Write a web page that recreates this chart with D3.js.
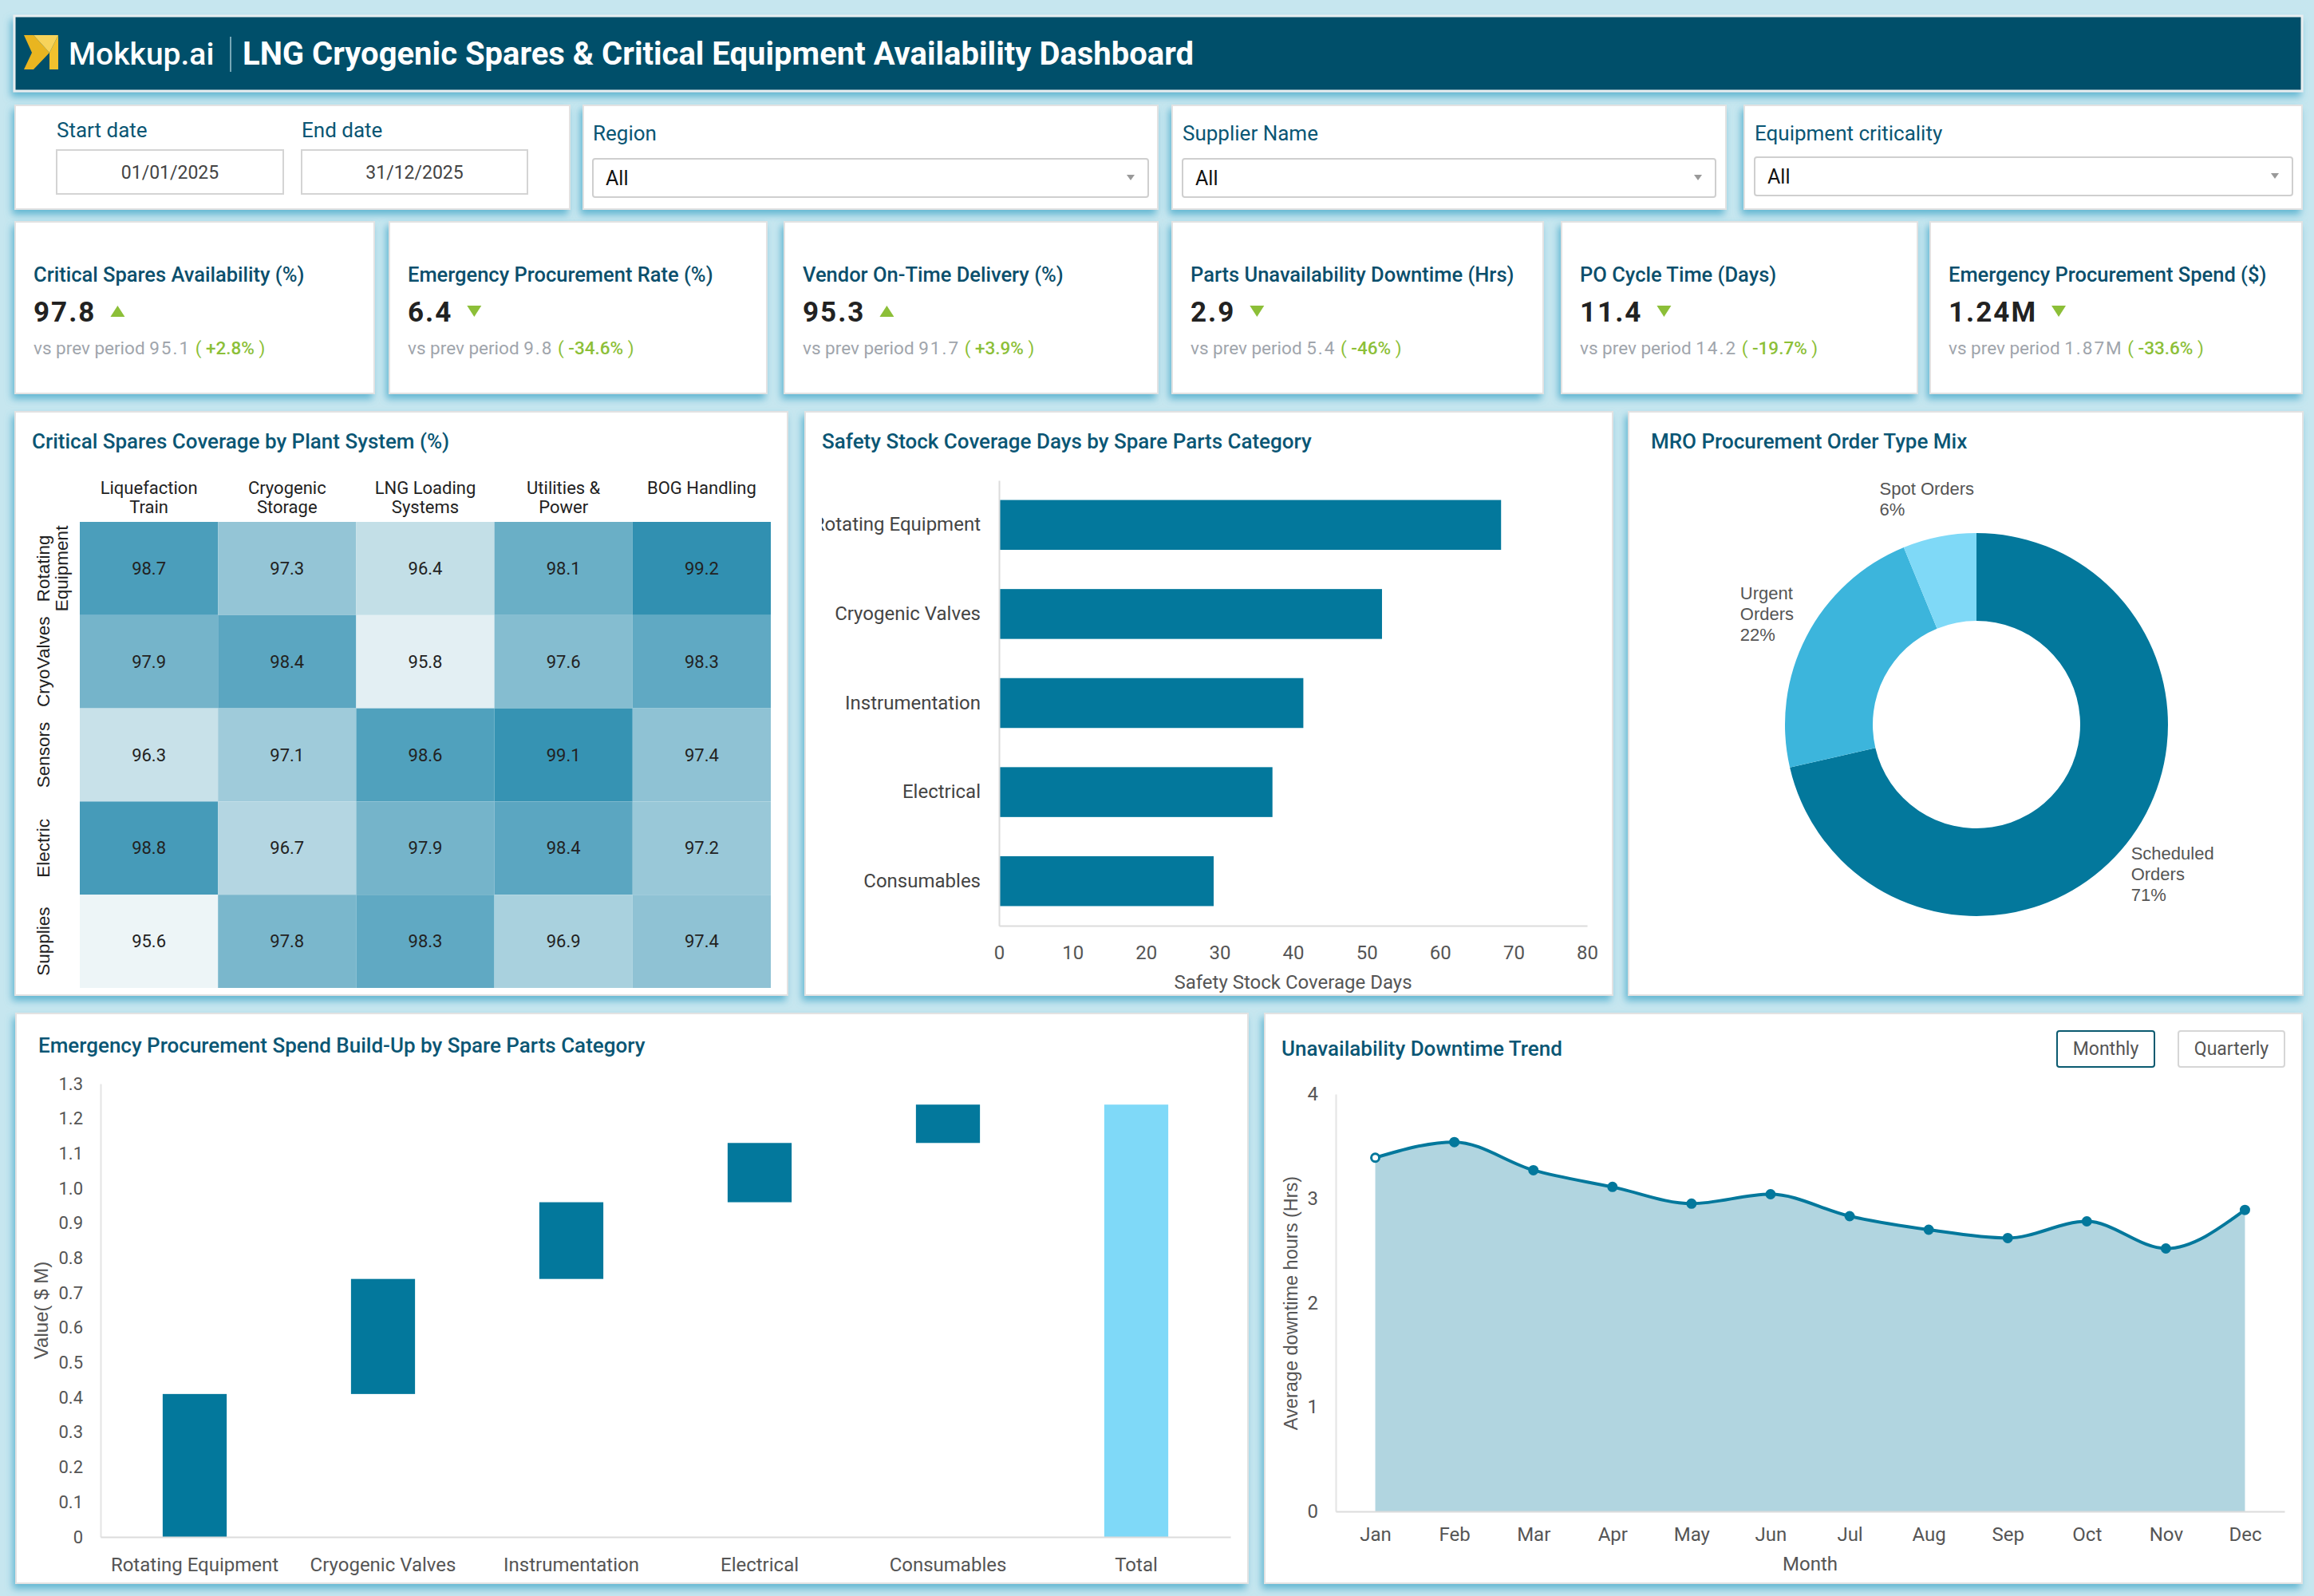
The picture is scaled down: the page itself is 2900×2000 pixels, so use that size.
<!DOCTYPE html>
<html lang="en">
<head>
<meta charset="UTF-8">
<title>LNG Cryogenic Spares & Critical Equipment Availability Dashboard</title>
<script src="https://d3js.org/d3.v7.min.js"></script>
<style>
    body { margin: 0; background: #c6e6ef; }
    svg { display: block; font-family: Roboto, "Noto Sans", sans-serif; }
</style>
</head>
<body>
<script>
    // ---------- data ----------
    const kpiTitles = ["Critical Spares Availability (%)", "Emergency Procurement Rate (%)", "Vendor On-Time Delivery (%)",
        "Parts Unavailability Downtime (Hrs)", "PO Cycle Time (Days)", "Emergency Procurement Spend ($)"];
    const kpiValues = ["97.8", "6.4", "95.3", "2.9", "11.4", "1.24M"];
    const kpiPrev = ["95.1", "9.8", "91.7", "5.4", "14.2", "1.87M"];
    const kpiDelta = ["+2.8%", "-34.6%", "+3.9%", "-46%", "-19.7%", "-33.6%"];
    const kpiUp = [true, false, true, false, false, false];

    const heatRows = ["Rotating Equipment", "CryoValves", "Sensors", "Electric", "Supplies"];
    const heatCols = ["Liquefaction Train", "Cryogenic Storage", "LNG Loading Systems", "Utilities & Power", "BOG Handling"];
    const heatValues = [
        [98.7, 97.3, 96.4, 98.1, 99.2],
        [97.9, 98.4, 95.8, 97.6, 98.3],
        [96.3, 97.1, 98.6, 99.1, 97.4],
        [98.8, 96.7, 97.9, 98.4, 97.2],
        [95.6, 97.8, 98.3, 96.9, 97.4]
    ];

    const stockCategories = ["Rotating Equipment", "Cryogenic Valves", "Instrumentation", "Electrical", "Consumables"];
    const stockDays = [68.3, 52.1, 41.4, 37.2, 29.2];

    const orderTypes = ["Scheduled Orders", "Urgent Orders", "Spot Orders"];
    const orderShares = [71.4, 22.4, 6.2];

    const spendCategories = ["Rotating Equipment", "Cryogenic Valves", "Instrumentation", "Electrical", "Consumables"];
    const spendValues = [0.41, 0.33, 0.22, 0.17, 0.11];

    const months = ["Jan", "Feb", "Mar", "Apr", "May", "Jun", "Jul", "Aug", "Sep", "Oct", "Nov", "Dec"];
    const downtime = [3.39, 3.54, 3.27, 3.11, 2.95, 3.04, 2.83, 2.70, 2.62, 2.78, 2.52, 2.89];

    // ---------- colours ----------
    const teal = "#03789c";
    const titleColor = "#0a5674";
    const axisText = "#555";

    const svg = d3.select("body").append("svg")
        .attr("width", 2900)
        .attr("height", 2000);

    svg.append("rect").attr("width", 2900).attr("height", 2000).attr("fill", "#c6e6ef");

    const defs = svg.append("defs");
    defs.append("filter").attr("id", "shadow")
        .attr("x", "-10%").attr("y", "-10%").attr("width", "120%").attr("height", "130%")
        .append("feDropShadow")
        .attr("dx", -3).attr("dy", 6).attr("stdDeviation", 5)
        .attr("flood-color", "#3fa6c8").attr("flood-opacity", 0.75);

    function card(x, y, w, h) {
        return svg.append("rect")
            .attr("x", x).attr("y", y).attr("width", w).attr("height", h)
            .attr("fill", "#fff")
            .attr("stroke", "#e2e2e2").attr("stroke-width", 2)
            .attr("filter", "url(#shadow)");
    }

    function cardTitle(x, y, text) {
        svg.append("text").attr("x", x).attr("y", y)
            .attr("font-size", 26).attr("font-weight", 500)
            .attr("fill", titleColor).text(text);
    }

    // ---------- header ----------
    svg.append("rect").attr("x", 18).attr("y", 20).attr("width", 2867).attr("height", 94)
        .attr("fill", "#00506b").attr("stroke", "#e8eef0").attr("stroke-width", 3)
        .attr("filter", "url(#shadow)");

    const logo = svg.append("g").attr("transform", "translate(30,44)");
    logo.append("path").attr("d", "M0,0 L12,0 L32,22 L12,43 L0,43 L10,22 Z").attr("fill", "#e9b520");
    logo.append("path").attr("d", "M43,0 L43,43 L32,43 L32,22 Z").attr("fill", "#f2c12e");
    logo.append("path").attr("d", "M12,0 L43,0 L32,22 Z").attr("fill", "#f7d35a");

    svg.append("text").attr("x", 86).attr("y", 81)
        .attr("font-size", 39).attr("font-weight", 500).attr("fill", "#fff").text("Mokkup.ai");
    svg.append("line").attr("x1", 289).attr("x2", 289).attr("y1", 46).attr("y2", 90)
        .attr("stroke", "#9fc6d2").attr("stroke-width", 1.5);
    svg.append("text").attr("x", 304).attr("y", 81)
        .attr("font-size", 40).attr("font-weight", 700).attr("fill", "#fff")
        .text("LNG Cryogenic Spares & Critical Equipment Availability Dashboard");

    // ---------- filters ----------
    card(19, 132, 695, 130);
    const dateBoxes = [
        {label: "Start date", value: "01/01/2025", x: 71, w: 284},
        {label: "End date", value: "31/12/2025", x: 378, w: 283}
    ];
    dateBoxes.forEach(d => {
        svg.append("text").attr("x", d.x).attr("y", 172).attr("font-size", 26)
            .attr("fill", titleColor).text(d.label);
        svg.append("rect").attr("x", d.x).attr("y", 188).attr("width", d.w).attr("height", 55)
            .attr("fill", "#fff").attr("stroke", "#d4d4d4").attr("stroke-width", 2);
        svg.append("text").attr("x", d.x + d.w / 2).attr("y", 224).attr("text-anchor", "middle")
            .attr("font-size", 23).attr("fill", "#444").text(d.value);
    });

    const dropdowns = [
        {label: "Region", x: 731, w: 720, bx: 743, bw: 696, by: 199},
        {label: "Supplier Name", x: 1469, w: 694, bx: 1482, bw: 668, by: 199},
        {label: "Equipment criticality", x: 2186, w: 699, bx: 2199, bw: 674, by: 197}
    ];
    dropdowns.forEach(d => {
        card(d.x, 132, d.w, 130);
        svg.append("text").attr("x", d.bx).attr("y", 176).attr("font-size", 26)
            .attr("fill", titleColor).text(d.label);
        svg.append("rect").attr("x", d.bx).attr("y", d.by).attr("width", d.bw).attr("height", 48)
            .attr("rx", 3).attr("fill", "#fff").attr("stroke", "#cfcfcf").attr("stroke-width", 2);
        svg.append("text").attr("x", d.bx + 16).attr("y", d.by + 33).attr("font-size", 25)
            .attr("fill", "#111").text("All");
        const ax = d.bx + d.bw - 22, ay = d.by + 23;
        svg.append("path").attr("d", `M${ax - 5},${ay - 3} L${ax + 5},${ay - 3} L${ax},${ay + 4} Z`)
            .attr("fill", "#999");
    });

    // ---------- KPI cards ----------
    const kpiX = [19, 488, 983, 1469, 1957, 2419];
    const kpiW = [450, 473, 468, 465, 446, 466];
    const green = "#8cbf38";
    kpiTitles.forEach((t, i) => {
        const x0 = kpiX[i] + 23;
        card(kpiX[i], 278, kpiW[i], 215);
        svg.append("text").attr("x", x0).attr("y", 353).attr("font-size", 25.5).attr("font-weight", 500)
            .attr("fill", "#0b4f6c").text(t);
        const v = svg.append("text").attr("x", x0).attr("y", 403).attr("font-size", 35).attr("font-weight", 700)
            .attr("letter-spacing", 2).attr("fill", "#222").text(kpiValues[i]);
        const vx = x0 + v.node().getComputedTextLength() + 18;
        const tri = kpiUp[i]
            ? `M${vx},397 L${vx + 18},397 L${vx + 9},383 Z`
            : `M${vx},383 L${vx + 18},383 L${vx + 9},397 Z`;
        svg.append("path").attr("d", tri).attr("fill", green);
        const s = svg.append("text").attr("x", x0).attr("y", 444).attr("font-size", 22.5);
        s.append("tspan").attr("fill", "#a0a5ac").text("vs prev period ");
        s.append("tspan").attr("fill", "#a0a5ac").attr("letter-spacing", 2).text(kpiPrev[i]);
        s.append("tspan").attr("fill", green).text("  ( ");
        s.append("tspan").attr("fill", green).attr("font-weight", 500).text(kpiDelta[i]);
        s.append("tspan").attr("fill", green).text(" )");
    });

    // ---------- heatmap ----------
    card(19, 516, 968, 731);
    cardTitle(40, 562, "Critical Spares Coverage by Plant System (%)");

    const hx = d3.scaleBand().domain(heatCols).range([100, 966]);
    const hy = d3.scaleBand().domain(heatRows).range([654, 1238]);
    const hColor = d3.scaleLinear().domain([95.6, 99.2]).range(["#edf5f7", "#3190b1"]);

    const cells = [];
    heatRows.forEach((r, ri) => heatCols.forEach((c, ci) => cells.push({r, c, v: heatValues[ri][ci]})));

    svg.append("g").selectAll("rect").data(cells).join("rect")
        .attr("x", d => hx(d.c)).attr("y", d => hy(d.r))
        .attr("width", hx.bandwidth()).attr("height", hy.bandwidth())
        .attr("fill", d => hColor(d.v));
    svg.append("g").selectAll("text").data(cells).join("text")
        .attr("x", d => hx(d.c) + hx.bandwidth() / 2)
        .attr("y", d => hy(d.r) + hy.bandwidth() / 2)
        .attr("text-anchor", "middle").attr("dominant-baseline", "central")
        .attr("font-size", 22).attr("fill", "#222").text(d => d.v.toFixed(1));

    const colLines = {"Liquefaction Train": ["Liquefaction", "Train"], "Cryogenic Storage": ["Cryogenic", "Storage"],
        "LNG Loading Systems": ["LNG Loading", "Systems"], "Utilities & Power": ["Utilities &", "Power"], "BOG Handling": ["BOG Handling"]};
    heatCols.forEach(c => {
        const t = svg.append("text").attr("text-anchor", "middle").attr("font-size", 22).attr("fill", "#222");
        colLines[c].forEach((l, k) => t.append("tspan").attr("x", hx(c) + hx.bandwidth() / 2)
            .attr("y", 619 + k * 24).text(l));
    });
    const rowLines = {"Rotating Equipment": ["Rotating", "Equipment"]};
    heatRows.forEach(r => {
        const cy = hy(r) + hy.bandwidth() / 2;
        const lines = rowLines[r] || [r];
        const t = svg.append("text").attr("text-anchor", "middle")
            .attr("transform", `translate(0,${cy}) rotate(-90)`)
            .attr("font-family", "'Liberation Sans', Arial, sans-serif")
            .attr("font-size", 22.5).attr("fill", "#222");
        lines.forEach((l, k) => t.append("tspan").attr("x", 0).attr("y", 62 + k * 23).text(l));
    });

    // ---------- safety stock bar chart ----------
    card(1009, 516, 1012, 731);
    cardTitle(1030, 562, "Safety Stock Coverage Days by Spare Parts Category");

    const bx = d3.scaleLinear().domain([0, 80]).range([1252, 1989]);
    const by = d3.scaleBand().domain(stockCategories).range([602, 1160]).paddingInner(0.44).paddingOuter(0.22);

    svg.append("g").selectAll("rect").data(stockCategories).join("rect")
        .attr("x", bx(0)).attr("y", d => by(d))
        .attr("width", (d, i) => bx(stockDays[i]) - bx(0)).attr("height", by.bandwidth())
        .attr("fill", teal);

    const bxAxis = svg.append("g").attr("transform", "translate(0,1160)")
        .call(d3.axisBottom(bx).tickValues(d3.range(0, 81, 10)).tickSize(0).tickPadding(25));
    bxAxis.select(".domain").attr("stroke", "#dcdcdc").attr("stroke-width", 2);
    bxAxis.selectAll("text").attr("font-size", 24).attr("fill", axisText).attr("font-family", "Roboto");

    // category labels are cut by the card padding on the left, as in the source
    defs.append("clipPath").attr("id", "barclip").append("rect")
        .attr("x", 1030).attr("y", 580).attr("width", 960).attr("height", 620);
    const byAxis = svg.append("g").attr("clip-path", "url(#barclip)")
        .append("g").attr("transform", `translate(${bx(0)},0)`)
        .call(d3.axisLeft(by).tickSize(0).tickPadding(23));
    byAxis.select(".domain").attr("stroke", "#dcdcdc").attr("stroke-width", 2);
    byAxis.selectAll("text").attr("font-size", 24).attr("fill", "#444").attr("font-family", "Roboto");

    svg.append("text").attr("x", (bx(0) + bx(80)) / 2).attr("y", 1239).attr("text-anchor", "middle")
        .attr("font-size", 24).attr("fill", axisText).text("Safety Stock Coverage Days");

    // ---------- donut ----------
    card(2041, 516, 845, 731);
    cardTitle(2069, 562, "MRO Procurement Order Type Mix");

    const donutColors = d3.scaleOrdinal().domain(orderTypes).range([teal, "#3cb5dc", "#7fd9f7"]);
    const pie = d3.pie().sort(null).value((d, i) => orderShares[i]);
    const arcs = pie(orderTypes);
    const arc = d3.arc().innerRadius(130).outerRadius(240);
    const total = d3.sum(orderShares);
    const donut = svg.append("g").attr("transform", "translate(2477,908)");
    donut.selectAll("path").data(arcs).join("path")
        .attr("d", arc).attr("fill", d => donutColors(d.data));

    arcs.forEach((a, i) => {
        const mid = (a.startAngle + a.endAngle) / 2;
        const sx = Math.sin(mid), sy = -Math.cos(mid);
        const px = 262 * sx, py = 262 * sy;
        const lines = i === 2 ? [orderTypes[i]] : orderTypes[i].split(" ");
        lines.push(Math.round(orderShares[i] / total * 100) + "%");
        const t = donut.append("text")
            .attr("font-family", "'Liberation Sans', Arial, sans-serif")
            .attr("font-size", 22).attr("fill", "#555");
        lines.forEach((l, k) => t.append("tspan").attr("x", 0).attr("dy", k === 0 ? 0 : 26).text(l));
        const bb = t.node().getBBox();
        const cx = px + sx * bb.width / 2, cy = py + sy * bb.height / 2;
        t.attr("transform", `translate(${cx - bb.width / 2 - bb.x},${cy - bb.height / 2 - bb.y})`);
    });

    // ---------- waterfall ----------
    card(20, 1270, 1544, 714);
    cardTitle(48, 1319, "Emergency Procurement Spend Build-Up by Spare Parts Category");

    const wfCats = spendCategories.concat(["Total"]);
    let run = 0;
    const steps = spendValues.map((v, i) => {
        const s = {cat: spendCategories[i], y0: run, y1: run + v, total: false};
        run += v;
        return s;
    });
    steps.push({cat: "Total", y0: 0, y1: run, total: true});

    const wx = d3.scaleBand().domain(wfCats).range([126, 1542]).paddingInner(0.66).paddingOuter(0.33);
    const wy = d3.scaleLinear().domain([0, 1.3]).range([1926, 1358]);

    const wyAxis = svg.append("g").attr("transform", "translate(126,0)")
        .call(d3.axisLeft(wy).tickValues(d3.range(0, 14).map(d => d / 10)).tickSize(0).tickPadding(22)
            .tickFormat(d => d === 0 ? "0" : d3.format(".1f")(d)));
    wyAxis.select(".domain").attr("stroke", "#e4e4e4").attr("stroke-width", 2);
    wyAxis.selectAll("text").attr("font-size", 22).attr("fill", axisText).attr("font-family", "Roboto");

    svg.append("g").selectAll("rect").data(steps).join("rect")
        .attr("x", d => wx(d.cat)).attr("y", d => wy(d.y1))
        .attr("width", wx.bandwidth()).attr("height", d => wy(d.y0) - wy(d.y1))
        .attr("fill", d => d.total ? "#7fd9f8" : teal);

    const wxAxis = svg.append("g").attr("transform", "translate(0,1926)")
        .call(d3.axisBottom(wx).tickSize(0).tickPadding(26));
    wxAxis.select(".domain").attr("stroke", "#dcdcdc").attr("stroke-width", 2);
    wxAxis.selectAll("text").attr("font-size", 24).attr("fill", axisText).attr("font-family", "Roboto");

    svg.append("text").attr("transform", "translate(60,1642) rotate(-90)").attr("text-anchor", "middle")
        .attr("font-family", "'Liberation Sans', Arial, sans-serif")
        .attr("font-size", 24).attr("fill", axisText).text("Value( $ M)");

    // ---------- downtime trend ----------
    card(1585, 1270, 1300, 714);
    cardTitle(1606, 1323, "Unavailability Downtime Trend");

    const buttons = [
        {text: "Monthly", x: 2578, w: 122, stroke: "#0a5a70"},
        {text: "Quarterly", x: 2730, w: 133, stroke: "#d6d6d6"}
    ];
    buttons.forEach(b => {
        svg.append("rect").attr("x", b.x).attr("y", 1292).attr("width", b.w).attr("height", 45).attr("rx", 3)
            .attr("fill", "#fff").attr("stroke", b.stroke).attr("stroke-width", 2);
        svg.append("text").attr("x", b.x + b.w / 2).attr("y", 1322).attr("text-anchor", "middle")
            .attr("font-size", 23).attr("fill", axisText).text(b.text);
    });

    const lx = d3.scalePoint().domain(months).range([1674, 2863]).padding(0.5);
    const ly = d3.scaleLinear().domain([0, 4]).range([1894, 1371]);

    const lyAxis = svg.append("g").attr("transform", "translate(1674,0)")
        .call(d3.axisLeft(ly).ticks(4).tickSize(0).tickPadding(22));
    lyAxis.select(".domain").attr("stroke", "#e4e4e4").attr("stroke-width", 2);
    lyAxis.selectAll("text").attr("font-size", 24).attr("fill", axisText).attr("font-family", "Roboto");

    svg.append("path").datum(downtime)
        .attr("d", d3.area().x((d, i) => lx(months[i])).y0(ly(0)).y1(d => ly(d)).curve(d3.curveMonotoneX))
        .attr("fill", "#b1d5e0");

    const lxAxis = svg.append("g").attr("transform", "translate(0,1894)")
        .call(d3.axisBottom(lx).tickSize(0).tickPadding(20));
    lxAxis.select(".domain").attr("stroke", "#dcdcdc").attr("stroke-width", 2);
    lxAxis.selectAll("text").attr("font-size", 24).attr("fill", axisText).attr("font-family", "Roboto");

    svg.append("path").datum(downtime)
        .attr("d", d3.line().x((d, i) => lx(months[i])).y(d => ly(d)).curve(d3.curveMonotoneX))
        .attr("fill", "none").attr("stroke", teal).attr("stroke-width", 4);

    svg.append("g").selectAll("circle").data(downtime).join("circle")
        .attr("cx", (d, i) => lx(months[i])).attr("cy", d => ly(d)).attr("r", 5)
        .attr("fill", (d, i) => i === 0 ? "#fff" : teal)
        .attr("stroke", teal).attr("stroke-width", 3);

    svg.append("text").attr("x", (lx.range()[0] + lx.range()[1]) / 2).attr("y", 1968).attr("text-anchor", "middle")
        .attr("font-size", 24).attr("fill", axisText).text("Month");
    svg.append("text").attr("transform", "translate(1626,1633) rotate(-90)").attr("text-anchor", "middle")
        .attr("font-family", "'Liberation Sans', Arial, sans-serif")
        .attr("font-size", 23.5).attr("fill", axisText).text("Average downtime hours (Hrs)");
</script>
</body>
</html>
